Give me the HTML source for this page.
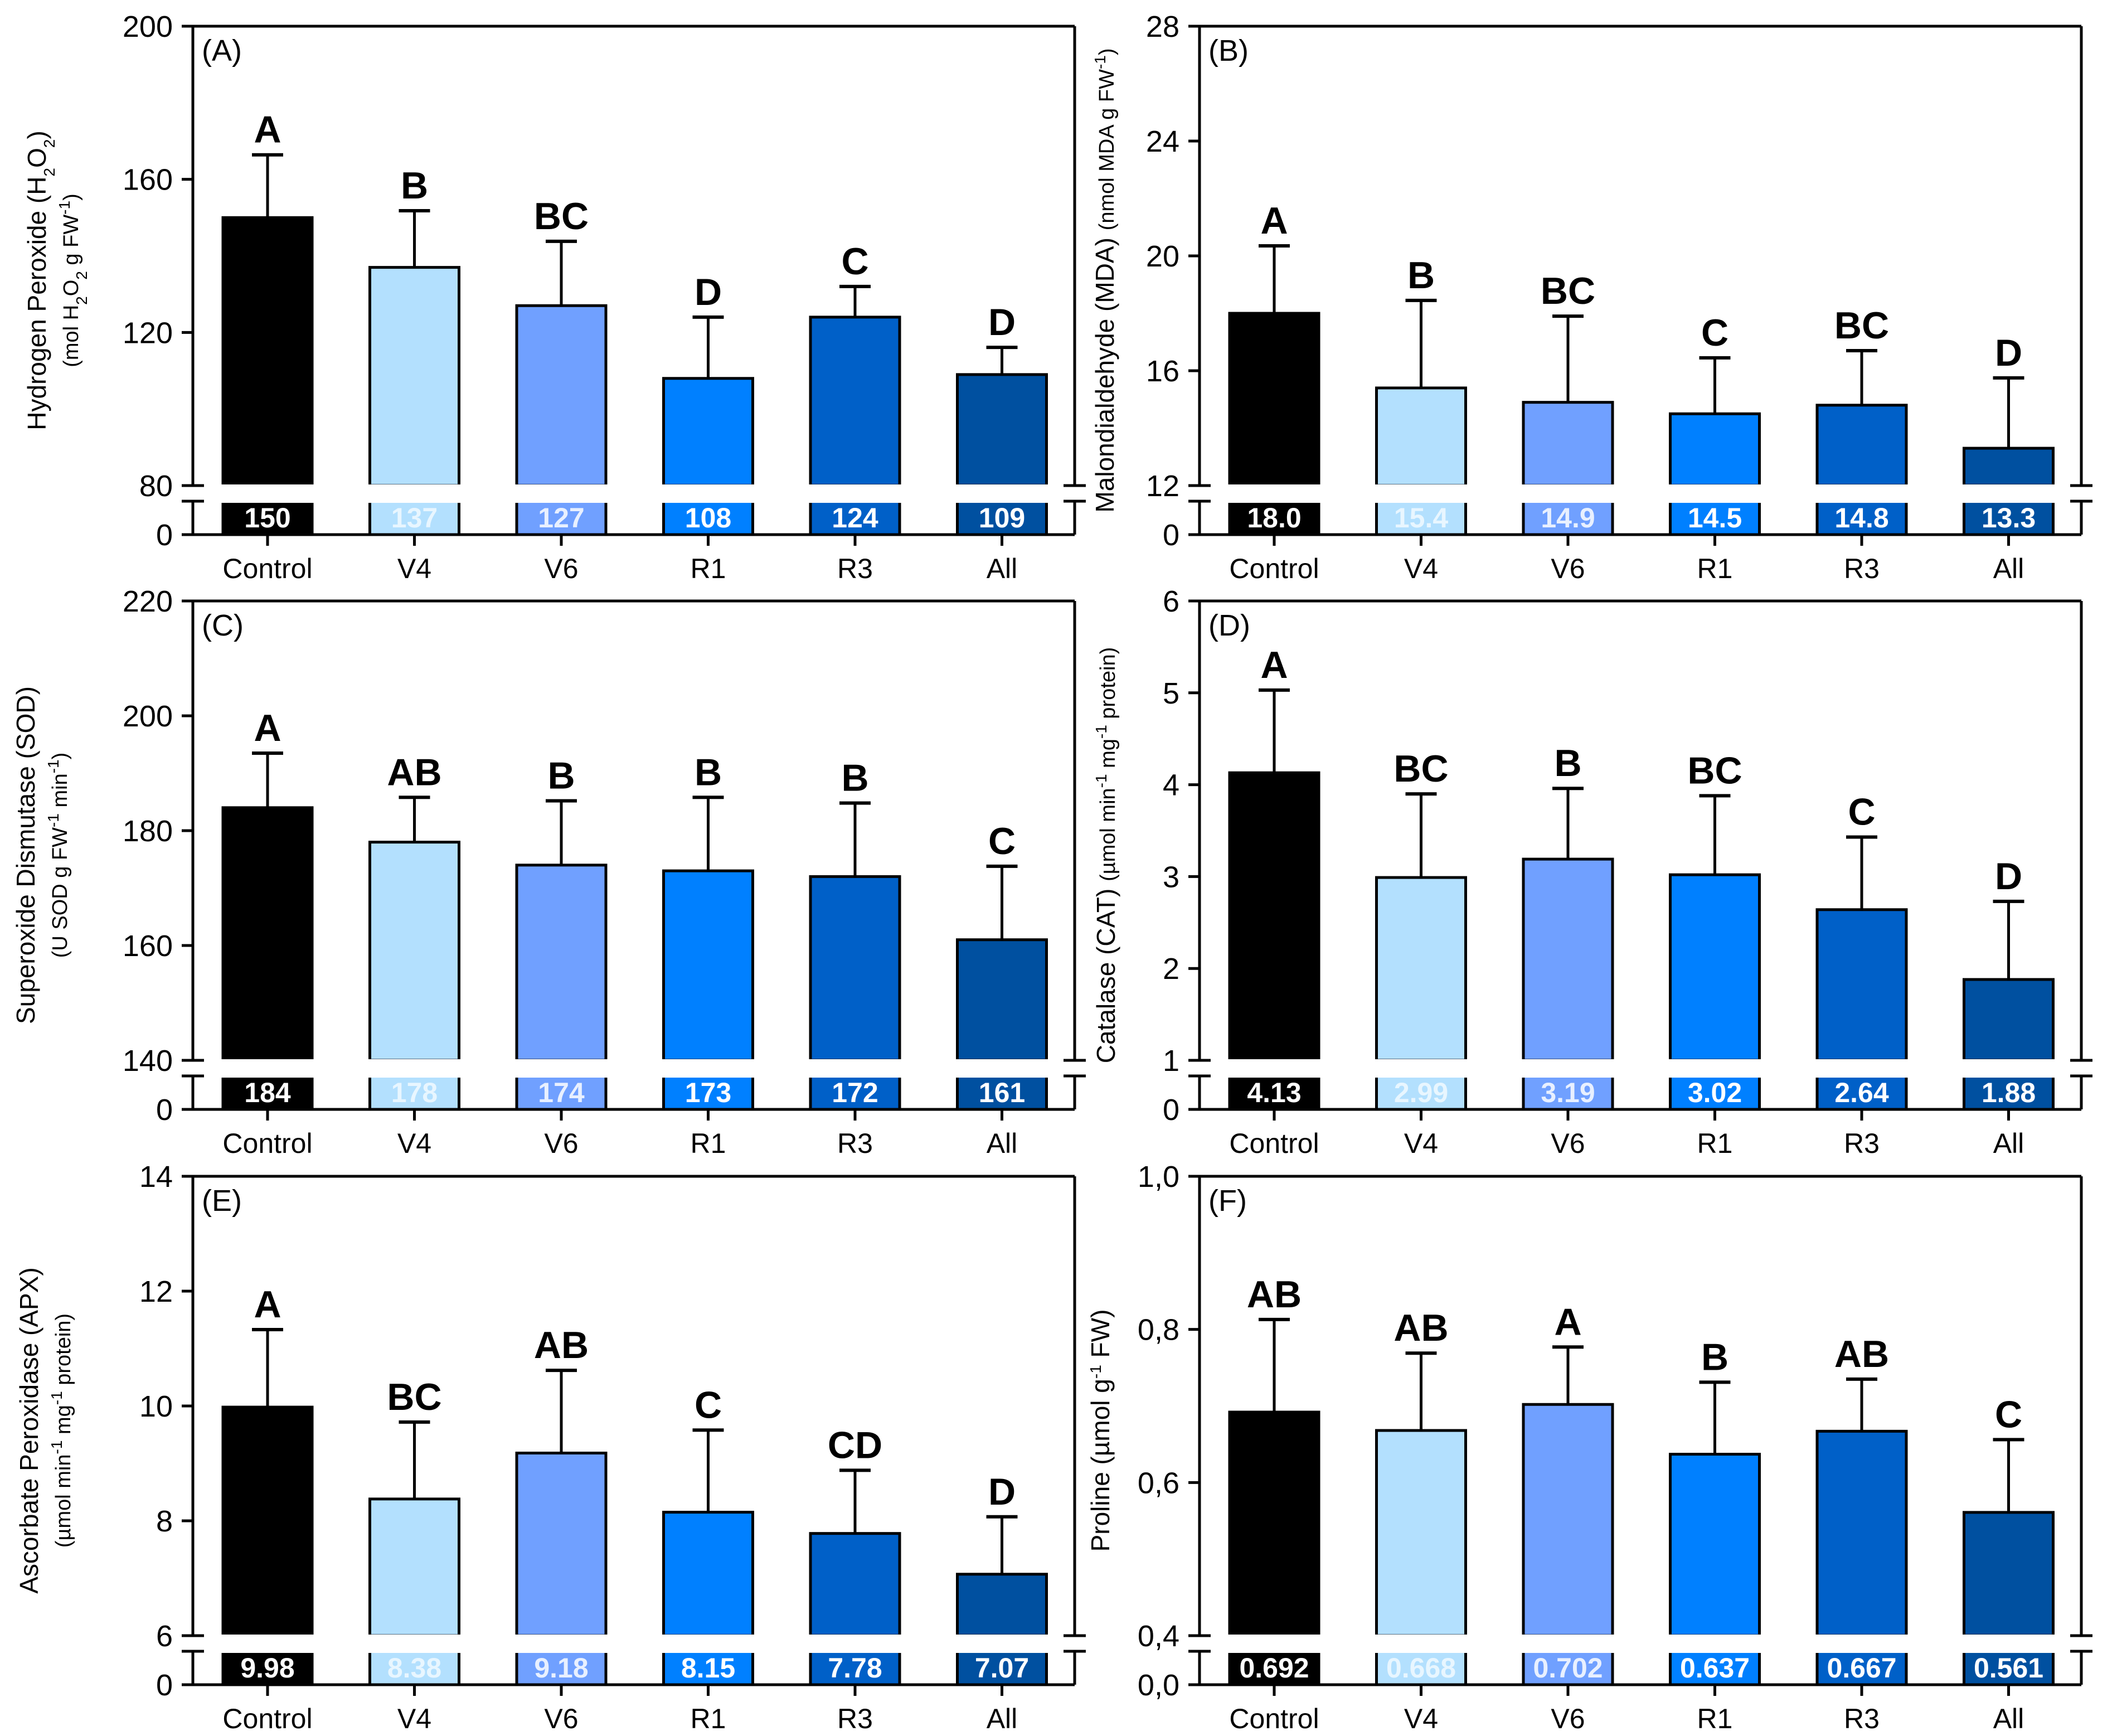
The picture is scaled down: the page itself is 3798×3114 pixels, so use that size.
<!DOCTYPE html>
<html><head><meta charset="utf-8"><style>
html,body{margin:0;padding:0;background:#fff}
svg{display:block}
text{font-family:"Liberation Sans",Arial,sans-serif}
</style></head><body>
<svg id="fig" width="3798" height="3114" viewBox="0 0 3798 3114" xmlns="http://www.w3.org/2000/svg"></svg>
<script>
const categories = ["Control","V4","V6","R1","R3","All"];
const colors = ["#000000","#b3e0fe","#70a0ff","#0080ff","#0060c8","#0050a0"];
const labelColors = ["#ffffff","#e8f6ff","#e8f0ff","#ffffff","#ffffff","#ffffff"];

const valuesA = [150,137,127,108,124,109];
const errA = [166.4,151.8,143.8,124,132,116.1];
const lettersA = ["A","B","BC","D","C","D"];
const printedA = ["150","137","127","108","124","109"];
const ticksA = [80,120,160,200];

const valuesB = [18.0,15.4,14.9,14.5,14.8,13.3];
const errB = [20.35,18.45,17.9,16.45,16.7,15.75];
const lettersB = ["A","B","BC","C","BC","D"];
const printedB = ["18.0","15.4","14.9","14.5","14.8","13.3"];
const ticksB = [12,16,20,24,28];

const valuesC = [184,178,174,173,172,161];
const errC = [193.5,185.8,185.2,185.8,184.8,173.8];
const lettersC = ["A","AB","B","B","B","C"];
const printedC = ["184","178","174","173","172","161"];
const ticksC = [140,160,180,200,220];

const valuesD = [4.13,2.99,3.19,3.02,2.64,1.88];
const errD = [5.03,3.9,3.96,3.88,3.43,2.73];
const lettersD = ["A","BC","B","BC","C","D"];
const printedD = ["4.13","2.99","3.19","3.02","2.64","1.88"];
const ticksD = [1,2,3,4,5,6];

const valuesE = [9.98,8.38,9.18,8.15,7.78,7.07];
const errE = [11.33,9.72,10.62,9.58,8.88,8.07];
const lettersE = ["A","BC","AB","C","CD","D"];
const printedE = ["9.98","8.38","9.18","8.15","7.78","7.07"];
const ticksE = [6,8,10,12,14];

const valuesF = [0.692,0.668,0.702,0.637,0.667,0.561];
const errF = [0.813,0.769,0.777,0.731,0.735,0.656];
const lettersF = ["AB","AB","A","B","AB","C"];
const printedF = ["0.692","0.668","0.702","0.637","0.667","0.561"];
const ticksF = [0.4,0.6,0.8,1.0];

const svg = document.getElementById('fig');
const NS = 'http://www.w3.org/2000/svg';
function mk(tag, attrs, parent){
  const e = document.createElementNS(NS, tag);
  for (const k in attrs) e.setAttribute(k, attrs[k]);
  (parent||svg).appendChild(e);
  return e;
}
function line(x1,y1,x2,y2,g,w){return mk('line',{x1,y1,x2,y2,stroke:'#000','stroke-width':w||5},g);}

function panel(cfg){
  const g = mk('g',{});
  
  
  const x0 = cfg.x0, x1 = cfg.x0 + 1582, top = cfg.top;
  const brk = top + 824, lowTop = top + 852, bot = top + 912;
  const yMin = cfg.ticks[0], yMax = cfg.ticks[cfg.ticks.length-1];
  const y = v => top + (yMax - v)/(yMax - yMin)*(brk - top);
  const xc = i => x0 + 134 + 263.5*i;
  // frame
  line(x0-20,top,x1,top,g);
  line(x0,top,x0,brk,g); line(x1,top,x1,brk,g);
  line(x0,lowTop,x0,bot,g); line(x1,lowTop,x1,bot,g);
  line(x0-20,brk,x0+20,brk,g); line(x0-20,lowTop,x0+20,lowTop,g);
  line(x1-20,brk,x1+20,brk,g); line(x1-20,lowTop,x1+20,lowTop,g);
  line(x0-20,bot,x1,bot,g);
  // y ticks
  cfg.ticks.forEach((t,k)=>{
    const yy = y(t);
    if (k>0 && k<cfg.ticks.length-1) line(x0-20,yy,x0,yy,g);
    const tx = mk('text',{x:x0-36,y:yy+19,'font-size':54,'text-anchor':'end',fill:'#000'},g);
    
    
    tx.textContent = cfg.fmt ? cfg.fmt(t) : String(t);
  });
  const z = mk('text',{x:x0-36,y:bot+19,'font-size':54,'text-anchor':'end',fill:'#000'},g);
  
  
  z.textContent = cfg.zero;
  // panel label
  const pl = mk('text',{x:x0+16,y:top+62,'font-size':54,fill:'#000'},g);
  
  
  pl.textContent = '('+cfg.id+')';
  // bars
  cfg.values.forEach((v,i)=>{
    const cx = xc(i), w = 160, bx = cx - w/2, yt = y(v);
    const r = mk('rect',{x:bx,y:yt,width:w,height:brk-yt,fill:colors[i],stroke:'#000','stroke-width':5},g);
    
    
    mk('rect',{x:bx-4,y:brk-2,width:w+8,height:6,fill:'#fff'},g);
    const r2 = mk('rect',{x:bx,y:lowTop,width:w,height:bot-lowTop,fill:colors[i],stroke:'#000','stroke-width':5},g);
    
    
    mk('rect',{x:bx-4,y:lowTop-3,width:w+8,height:6,fill:'#fff'},g);
    // error bar
    const ye = y(cfg.err[i]);
    const eb = line(cx,yt,cx,ye,g,5);
    
    
    line(cx-28,ye,cx+28,ye,g,6);
    const lt = mk('text',{x:cx,y:ye-22,'font-size':68,'font-weight':'bold','text-anchor':'middle',fill:'#000'},g);
    
    
    lt.textContent = cfg.letters[i];
    const vl = mk('text',{x:cx,y:bot-13,'font-size':50,'font-weight':'bold','text-anchor':'middle',fill:labelColors[i]},g);
    
    
    vl.textContent = cfg.printed[i];
    line(cx,bot,cx,bot+20,g,5);
    const xl = mk('text',{x:cx,y:bot+78,'font-size':50,'text-anchor':'middle',fill:'#000'},g);
    
    
    xl.textContent = categories[i];
  });
  // y title
  const midY = (top+bot)/2;
  const tt = mk('text',{x:cfg.tx,y:midY,'font-size':46,'text-anchor':'middle',fill:'#000',transform:`rotate(-90 ${cfg.tx} ${midY})`},g);
  
  
  tt.innerHTML = cfg.title;
  if (cfg.sub){
    const sx = cfg.tx + 58;
    const st = mk('text',{x:sx,y:midY,'font-size':38,'text-anchor':'middle',fill:'#000',transform:`rotate(-90 ${sx} ${midY})`},g);
    
    
    st.innerHTML = cfg.sub;
  }
}
const sup = s => `<tspan baseline-shift="super" font-size="28">${s}</tspan>`;
const sub = s => `<tspan baseline-shift="sub" font-size="28">${s}</tspan>`;
const L = 346, R = 2152, T = [47,1078,2110];
const comma = t => t.toFixed(1).replace('.',',');
panel({id:'A',x0:L,top:T[0],values:valuesA,err:errA,letters:lettersA,printed:printedA,ticks:ticksA,zero:'0',tx:82,
  title:`Hydrogen Peroxide (H${sub('2')}O${sub('2')})`, sub:`(mol H${sub('2')}O${sub('2')} g FW${sup('-1')})`});
panel({id:'B',x0:R,top:T[0],values:valuesB,err:errB,letters:lettersB,printed:printedB,ticks:ticksB,zero:'0',tx:1998,
  title:`Malondialdehyde (MDA) <tspan font-size="38">(nmol MDA g FW${sup('-1')})</tspan>`});
panel({id:'C',x0:L,top:T[1],values:valuesC,err:errC,letters:lettersC,printed:printedC,ticks:ticksC,zero:'0',tx:62,
  title:`Superoxide Dismutase (SOD)`, sub:`(U SOD g FW${sup('-1')} min${sup('-1')})`});
panel({id:'D',x0:R,top:T[1],values:valuesD,err:errD,letters:lettersD,printed:printedD,ticks:ticksD,zero:'0',tx:2000,
  title:`Catalase (CAT) <tspan font-size="38">(µmol min${sup('-1')} mg${sup('-1')} protein)</tspan>`});
panel({id:'E',x0:L,top:T[2],values:valuesE,err:errE,letters:lettersE,printed:printedE,ticks:ticksE,zero:'0',tx:68,
  title:`Ascorbate Peroxidase (APX)`, sub:`(µmol min${sup('-1')} mg${sup('-1')} protein)`});
panel({id:'F',x0:R,top:T[2],values:valuesF,err:errF,letters:lettersF,printed:printedF,ticks:ticksF,zero:'0,0',tx:1990,fmt:comma,
  title:`Proline (µmol g${sup('-1')} FW)`});
</script>
</body></html>
